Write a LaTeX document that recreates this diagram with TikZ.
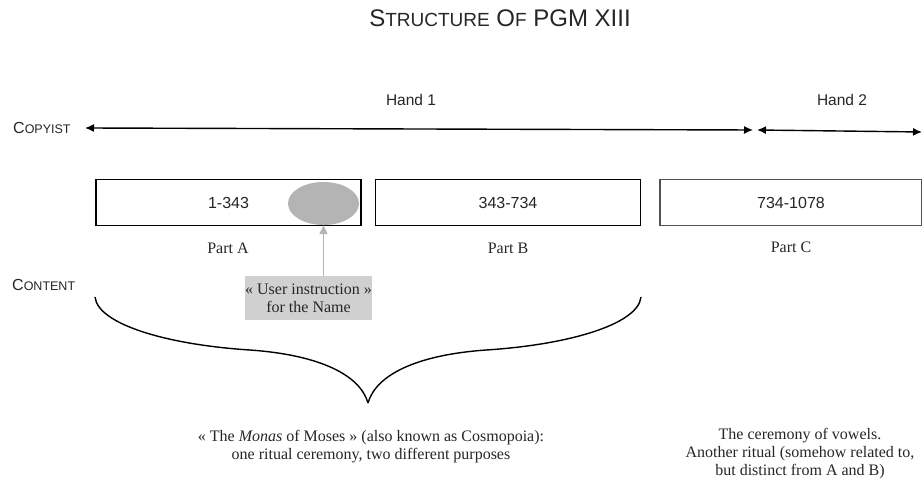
\documentclass[tikz,border=0pt]{standalone}
\usepackage{fontspec}
\setmainfont{Liberation Serif}
\setsansfont{Liberation Sans}
\usetikzlibrary{arrows.meta,shapes.geometric}
\newcommand\tsm[1]{{\fontsize{19}{22}\selectfont #1}}
\newcommand\lsm[1]{{\fontsize{12.5}{14}\selectfont #1}}
\definecolor{ink}{HTML}{262626}
\definecolor{ellgray}{HTML}{B4B4B4}
\definecolor{boxgray}{HTML}{D0D0D0}
\tikzset{
  sanslbl/.style={font=\sffamily\fontsize{15.5}{18}\selectfont, text=ink, inner sep=0pt},
  seriflbl/.style={font=\fontsize{16}{18}\selectfont, text=ink, inner sep=0pt, align=center},
  sclbl/.style={font=\sffamily\fontsize{16}{18}\selectfont, text=ink, inner sep=0pt, anchor=west},
  partbox/.style={draw=black, line width=1.8pt, minimum height=46pt, inner sep=0pt, font=\sffamily\fontsize{16}{18}\selectfont, text=ink},
  hand/.style={{Latex[length=9pt,width=8pt]}-{Latex[length=9pt,width=8pt]}, line width=1.4pt},
  brace/.style={line width=1.4pt, draw=black},
}
\begin{document}
\begin{tikzpicture}[x=1pt,y=-1pt]
\path[use as bounding box, fill=white] (0,0) rectangle (922,486);

% title
\node[font=\sffamily\fontsize{24}{28}\selectfont, text=ink, inner sep=0pt, anchor=base] (title) at (500,27)
  {S\tsm{TRUCTURE} O\tsm{F} PGM XIII};

% copyist row
\node[sclbl] (copyist) at (13,128) {C\lsm{OPYIST}};
\coordinate (h1l) at (85,128);
\coordinate (h1r) at (753,130);
\coordinate (h2l) at (757,130);
\coordinate (h2r) at (922,132);
\draw[hand] (h1l) -- (h1r);
\draw[hand] (h2l) -- (h2r);
\node[sanslbl] (hand1) at (411,100) {Hand 1};
\node[sanslbl] (hand2) at (842,100) {Hand 2};

% boxes
\node[partbox, minimum width=265pt] (boxA) at (228.5,202.5) {1-343};
\node[partbox, minimum width=265pt] (boxB) at (508,202.5) {343-734};
\node[partbox, draw=ink!80, line width=1.3pt, minimum width=262pt] (boxC) at (791,202.5) {734-1078};
\node[ellipse, fill=ellgray, minimum width=71pt, minimum height=43pt, inner sep=0pt] (ell) at (323.5,203.5) {};

\node[seriflbl] (partA) at (228,248) {Part A};
\node[seriflbl] (partB) at (508,248) {Part B};
\node[seriflbl] (partC) at (791,247) {Part C};

% content
\node[sclbl] (content) at (12,285) {C\lsm{ONTENT}};

% user instruction
\node[fill=boxgray, minimum width=120pt, minimum height=44pt, inner sep=0pt, seriflbl] (ui) at (308.5,298)
  {« User instruction »\\for the Name};
\draw[draw=ellgray, line width=1.6pt, -{Triangle[length=9pt,width=8pt]}] (ui.north -| ell.south) -- (ell.south);

% brace
\coordinate (brL) at (95,297);
\coordinate (brM) at (368,403);
\coordinate (brR) at (641,297);
\draw[brace] (brL) .. controls (98,325) and (170,345) .. (250,350)
  .. controls (320,355) and (360,375) .. (brM);
\draw[brace] (brR) .. controls (638,325) and (566,345) .. (486,350)
  .. controls (416,355) and (376,375) .. (brM);

% bottom texts
\node[seriflbl] (monas) at (371,447)
  {« The \textit{Monas} of Moses » (also known as Cosmopoia):\\one ritual ceremony, two different purposes};
\node[seriflbl] (vowels) at (800,454)
  {The ceremony of vowels.\\Another ritual (somehow related to,\\but distinct from A and B)};
\end{tikzpicture}
\end{document}
